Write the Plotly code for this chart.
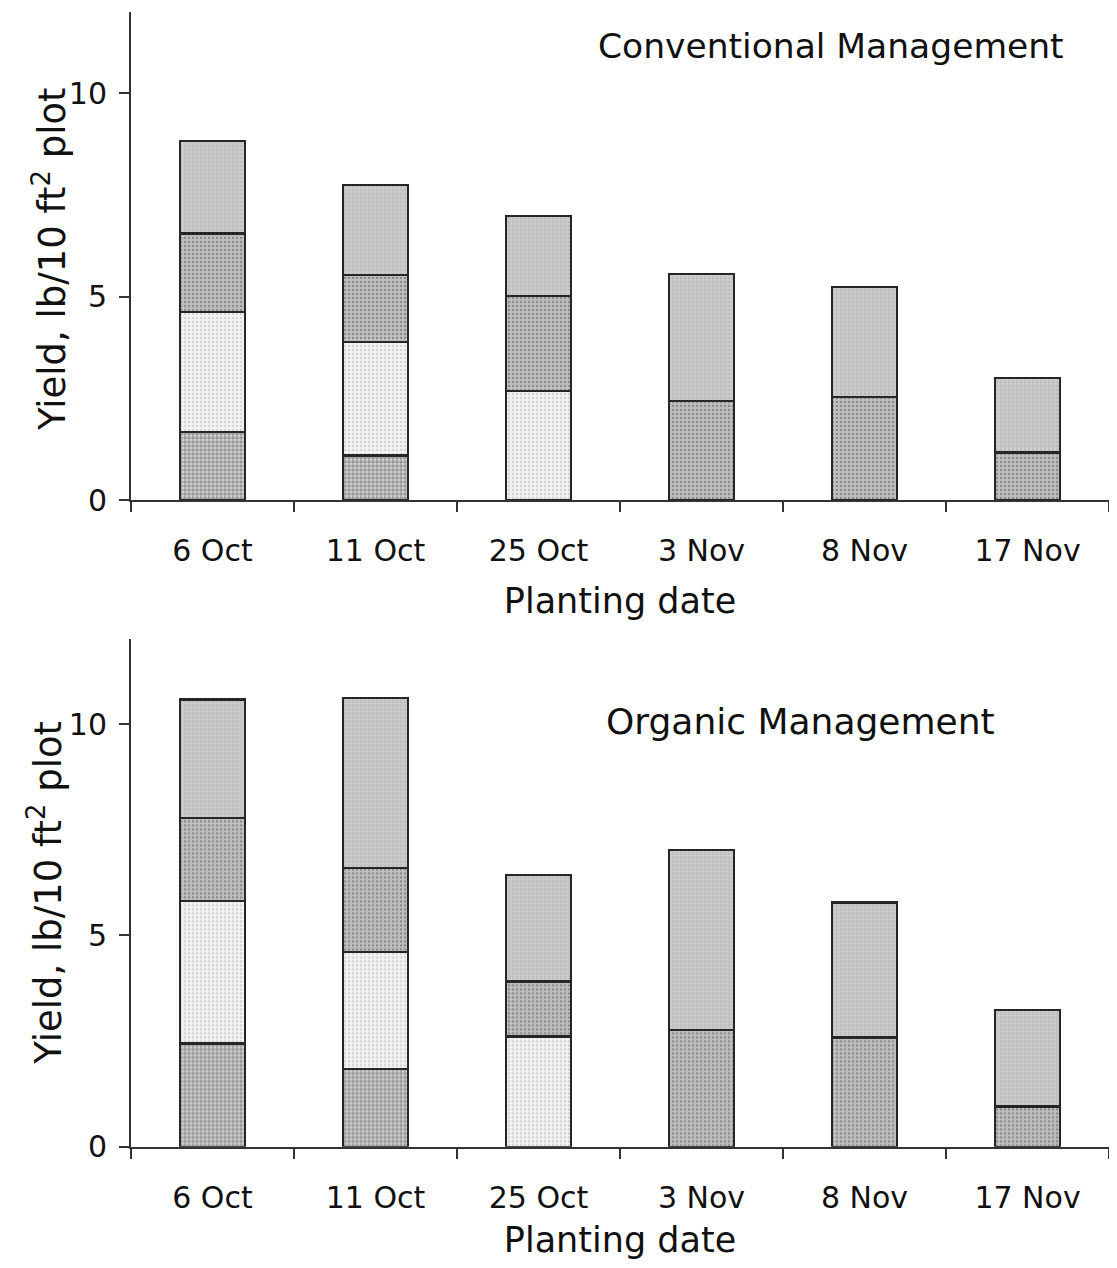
import plotly.graph_objects as go

dates = ["6 Oct", "11 Oct", "25 Oct", "3 Nov", "8 Nov", "17 Nov"]

# Conventional management (stacked segments, bottom to top)
conv_s1 = [1.68, 1.10, 0, 0, 0, 0]
conv_s2 = [2.95, 2.79, 2.69, 0, 0, 0]
conv_s3 = [1.93, 1.64, 2.33, 2.44, 2.53, 1.17]
conv_s4 = [2.27, 2.22, 1.97, 3.12, 2.71, 1.83]

# Organic management
org_s1 = [2.44, 1.84, 0, 0, 0, 0]
org_s2 = [3.38, 2.77, 2.61, 0, 0, 0]
org_s3 = [1.96, 1.99, 1.30, 2.77, 2.59, 0.95]
org_s4 = [2.80, 4.02, 2.52, 4.25, 3.19, 2.28]

titles = ["Conventional Management", "Organic Management"]
ytitle = "Yield, lb/10 ft<sup>2</sup> plot"
xtitle = "Planting date"

styles = [
    dict(shape="+", fgcolor="#7a7a7a", bgcolor="#d0d0d0", size=4, solidity=0.35),
    dict(shape=".", fgcolor="#d4d4d4", bgcolor="#f2f2f2", size=4, solidity=0.3),
    dict(shape=".", fgcolor="#8c8c8c", bgcolor="#c0c0c0", size=4, solidity=0.3),
    dict(shape=".", fgcolor="#bcbcbc", bgcolor="#cbcbcb", size=4, solidity=0.3),
]

W = 1101
H = 1252
L = 123
fig = go.Figure()

panels = [
    ([conv_s1, conv_s2, conv_s3, conv_s4], "x", "y"),
    ([org_s1, org_s2, org_s3, org_s4], "x2", "y2"),
]
for series, xa, ya in panels:
    for vals, st in zip(series, styles):
        fig.add_trace(go.Bar(
            x=dates, y=vals, xaxis=xa, yaxis=ya, width=0.4,
            marker=dict(color=st["bgcolor"], line=dict(color="#262626", width=2.4),
                        pattern=dict(shape=st["shape"], fgcolor=st["fgcolor"],
                                     bgcolor=st["bgcolor"], size=st["size"],
                                     solidity=st["solidity"], fillmode="replace")),
            showlegend=False, hoverinfo="x+y"))

font = "DejaVu Sans, Verdana, sans-serif"

def yax(dom):
    return dict(domain=dom, range=[0, 12], tickvals=[0, 5, 10], ticks="outside",
                ticklen=10, tickwidth=2, tickcolor="#333", showline=True, linecolor="#333",
                linewidth=2, showgrid=False, zeroline=False, ticklabelstandoff=6,
                tickfont=dict(family=font, size=30, color="#111"))

def xax(dom_anchor):
    return dict(domain=[0, 1], anchor=dom_anchor, range=[-0.5, 5.5], ticks="outside",
                tickson="boundaries", ticklen=10, tickwidth=2, tickcolor="#333",
                showline=True, linecolor="#333", linewidth=2, showgrid=False,
                tickfont=dict(family=font, size=30, color="#111"), ticklabelstandoff=23,
                title=dict(text=xtitle, font=dict(family=font, size=35, color="#111"),
                           standoff=21))

ydom1 = [0.6011, 0.9968]
ydom2 = [0.0771, 0.4883]
pw = W - L

fig.update_layout(
    width=W, height=H, barmode="stack", bargap=0.6,
    margin=dict(l=L, r=0, t=0, b=0),
    plot_bgcolor="white", paper_bgcolor="white",
    xaxis=xax("y"), xaxis2=xax("y2"),
    yaxis=yax(ydom1), yaxis2=yax(ydom2),
    annotations=[
        dict(text=titles[0], xref="paper", yref="paper", x=(823 - L) / pw, y=0.9693,
             showarrow=False, xanchor="center", yanchor="middle",
             font=dict(family=font, size=34.5, color="#111")),
        dict(text=titles[1], xref="paper", yref="paper", x=(792 - L) / pw, y=0.4218,
             showarrow=False, xanchor="center", yanchor="middle",
             font=dict(family=font, size=36, color="#111")),
        dict(text=ytitle, xref="paper", yref="paper", x=(42 - L) / pw,
             y=0.7965, textangle=-90, showarrow=False,
             xanchor="center", yanchor="middle",
             font=dict(family=font, size=37, color="#111")),
        dict(text=ytitle, xref="paper", yref="paper", x=(38 - L) / pw,
             y=0.2831, textangle=-90, showarrow=False,
             xanchor="center", yanchor="middle",
             font=dict(family=font, size=37, color="#111")),
    ],
)

fig.write_html("out.html")
